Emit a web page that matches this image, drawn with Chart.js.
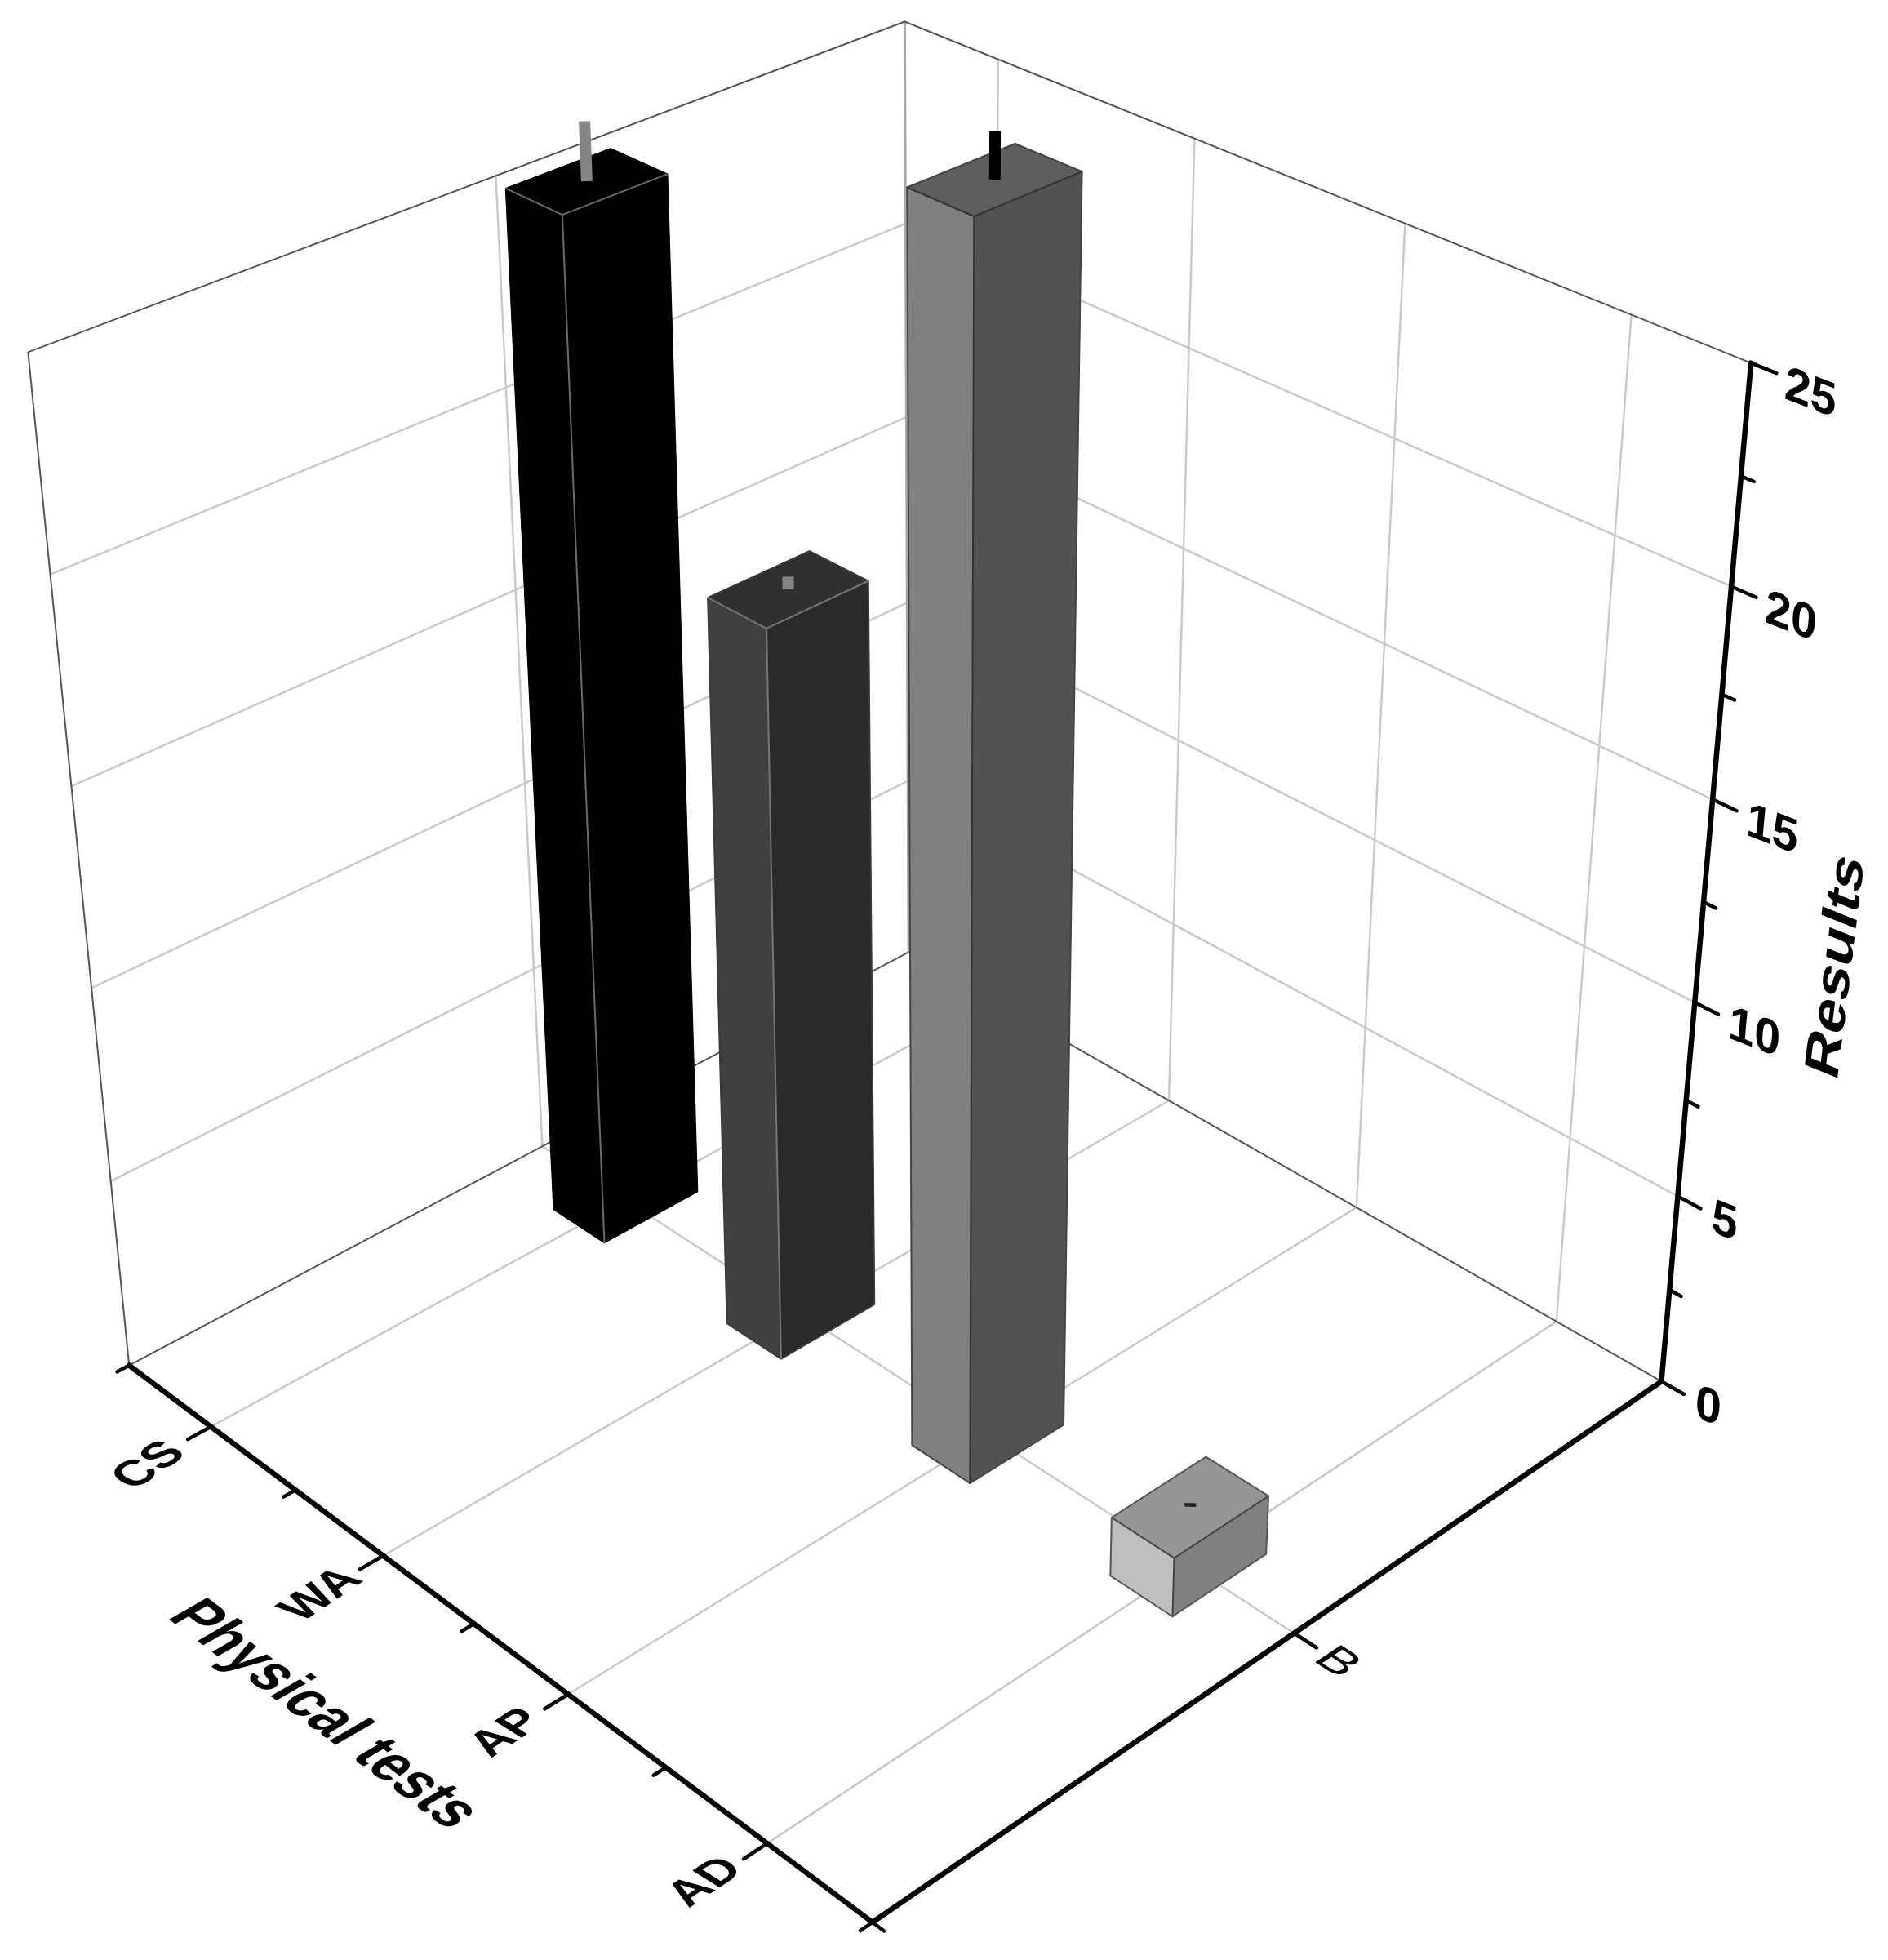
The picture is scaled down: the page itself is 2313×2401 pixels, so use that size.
<!DOCTYPE html>
<html>
<head>
<meta charset="utf-8">
<title>Physical tests</title>
<script src="https://cdn.jsdelivr.net/npm/chart.js@4"></script>
<style>
  html, body { margin: 0; padding: 0; background: #fff; }
  canvas { display: block; filter: blur(0.7px); }
</style>
</head>
<body>
<canvas id="chart" width="2313" height="2401"></canvas>
<script>
// ===== DATA =====
const tests = ["CS", "WA", "AP", "AD"];
const groups = ["B"];
const results = [25.85, 18.6, 29.8, 1.55];
const errors = [1.35, 0.3, 1.0, 0.1];
const resultTicks = [0, 5, 10, 15, 20, 25];
const resultMax = 25;

// ===== STYLE =====
const leftFace = ["#000000", "#404040", "#808080", "#bfbfbf"];
const rightFace = ["#000000", "#2a2a2a", "#525252", "#808080"];
const topFace = ["#000000", "#303030", "#5e5e5e", "#969696"];
const innerEdge = ["#6a6a6a", "#777777", "#333333", "#444444"];
const outerEdge = ["#000000", "#3a3a3a", "#444444", "#555555"];
const errorColor = ["#858585", "#858585", "#000000", "#222222"];
const barU = 0.0374;
const barV = 0.0596;
const fontName = '"Liberation Sans", Arial, sans-serif';
// a non empty dash keeps Chart.js off its fast path, which snaps steep lines to whole pixels
const solidDash = [100000, 0];

// where the box of the plot sits on the page: [u, v, z/25, px, py]
// u runs along the tests axis, v along the groups axis
const frameRefs = [
  [0, 0, 0, 159, 1673], [1, 0, 0, 1069, 2350], [1, 1, 0, 2035, 1693], [0, 1, 0, 1109, 1164],
  [0, 0, 1, 34, 431], [1, 1, 1, 2145, 442], [0, 1, 1, 1109, 27],
  [1, 1, 0.2, 2055, 1467], [1, 1, 0.4, 2076, 1229], [1, 1, 0.6, 2098, 980], [1, 1, 0.8, 2121, 720],
  [0, 0, 0.2, 136, 1442], [0, 0, 0.4, 112, 1210], [0, 0, 0.6, 87, 963], [0, 0, 0.8, 62, 705],
  [0.125, 0, 0, 260, 1751], [0.25, 0, 0, 360, 1830], [0.375, 0, 0, 471, 1905], [0.5, 0, 0, 578, 1993],
  [0.625, 0, 0, 696, 2075], [0.75, 0, 0, 811, 2167], [0.875, 0, 0, 940, 2255],
  [1, 0.5, 0, 1591, 2000], [0, 0.5, 0, 669, 1403], [0.875, 1, 0, 1907, 1619]
];

// ===== PROJECTION =====
function solveFrame(refs) {
  const n = 11;
  const m = Array.from({ length: n }, () => new Array(n + 1).fill(0));
  const addRow = (row, rhs) => {
    for (let i = 0; i < n; i++) {
      for (let j = 0; j < n; j++) m[i][j] += row[i] * row[j];
      m[i][n] += row[i] * rhs;
    }
  };
  refs.forEach(([u, v, z, x, y]) => {
    addRow([1, u, v, z, 0, 0, 0, 0, -x * u, -x * v, -x * z], x);
    addRow([0, 0, 0, 0, 1, u, v, z, -y * u, -y * v, -y * z], y);
  });
  for (let c = 0; c < n; c++) {
    let p = c;
    for (let r = c + 1; r < n; r++) if (Math.abs(m[r][c]) > Math.abs(m[p][c])) p = r;
    [m[c], m[p]] = [m[p], m[c]];
    for (let r = 0; r < n; r++) {
      if (r === c) continue;
      const f = m[r][c] / m[c][c];
      for (let k = c; k <= n; k++) m[r][k] -= f * m[c][k];
    }
  }
  return m.map((row, i) => row[n] / row[i]);
}

const h = solveFrame(frameRefs);

function project(u, v, value) {
  const z = value / resultMax;
  const w = 1 + h[8] * u + h[9] * v + h[10] * z;
  return {
    x: (h[0] + h[1] * u + h[2] * v + h[3] * z) / w,
    y: (h[4] + h[5] * u + h[6] * v + h[7] * z) / w
  };
}

const testU = (i) => (i + 0.5) / tests.length;
const groupV = (i) => (i + 0.5) / groups.length;

// ===== DATASETS =====
const datasets = [];

function addLine(points, color, width) {
  datasets.push({
    data: points, showLine: true, fill: false, borderColor: color, borderWidth: width, borderDash: solidDash,
    pointRadius: 0, tension: 0, clip: false, borderCapStyle: "round", borderJoinStyle: "round"
  });
}

function addFace(points, color) {
  datasets.push({
    data: points.concat([points[0]]), showLine: true, fill: "shape", backgroundColor: color,
    borderColor: color, borderWidth: 1, borderDash: solidDash, pointRadius: 0, tension: 0, clip: false
  });
}

// grid on the walls and the floor
const gridColor = "#cacaca";
resultTicks.slice(1, -1).forEach((t) => {
  addLine([project(0, 0, t), project(0, 1, t)], gridColor, 2.5);
  addLine([project(0, 1, t), project(1, 1, t)], gridColor, 2.5);
});
tests.forEach((t, i) => {
  addLine([project(testU(i), 1, 0), project(testU(i), 1, resultMax)], gridColor, 2.5);
  addLine([project(testU(i), 0, 0), project(testU(i), 1, 0)], gridColor, 2.5);
});
groups.forEach((g, i) => {
  addLine([project(0, groupV(i), 0), project(0, groupV(i), resultMax)], gridColor, 2.5);
  addLine([project(0, groupV(i), 0), project(1, groupV(i), 0)], gridColor, 2.5);
});

// frame of the box
addLine([project(0, 1, 0), project(0, 1, resultMax)], "#a8a8a8", 3);
addLine([project(0, 0, 0), project(0, 0, resultMax), project(0, 1, resultMax), project(1, 1, resultMax)], "#555555", 2);
addLine([project(0, 0, 0), project(0, 1, 0), project(1, 1, 0)], "#555555", 2);

// bars, far one first
results.forEach((value, i) => {
  const u = testU(i);
  const v = groupV(0);
  const lf = (z) => project(u - barU, v - barV, z);
  const fr = (z) => project(u + barU, v - barV, z);
  const rt = (z) => project(u + barU, v + barV, z);
  const bk = (z) => project(u - barU, v + barV, z);
  addFace([lf(0), fr(0), fr(value), lf(value)], leftFace[i]);
  addFace([fr(0), rt(0), rt(value), fr(value)], rightFace[i]);
  addFace([lf(value), fr(value), rt(value), bk(value)], topFace[i]);
  addLine([lf(0), fr(0), rt(0), rt(value), bk(value), lf(value), lf(0)], outerEdge[i], 2);
  addLine([lf(value), fr(value), rt(value)], innerEdge[i], 2);
  addLine([fr(0), fr(value)], innerEdge[i], 2);
  datasets.push({
    data: [project(u, v, value), project(u, v, value + errors[i])], showLine: true, fill: false,
    borderColor: errorColor[i], borderWidth: 14, borderDash: solidDash, pointRadius: 0, clip: false, borderCapStyle: "butt"
  });
});

// axes
const axisColor = "#000000";
addLine([project(0, 0, 0), project(1, 0, 0)], axisColor, 6.5);
addLine([project(1, 0, 0), project(1, 1, 0)], axisColor, 6.5);
addLine([project(1, 1, 0), project(1, 1, resultMax)], axisColor, 6.5);

const majorLen = 0.026;
const minorLen = 0.0135;
for (let k = 0; k <= tests.length * 2; k++) {
  const u = k / (tests.length * 2);
  const len = k % 2 ? majorLen : minorLen;
  addLine([project(u, 0, 0), project(u, -len, 0)], axisColor, 4.5);
}
[0, 0.5, 1].forEach((v) => {
  const len = v === 0.5 ? majorLen : minorLen;
  if (v < 1) addLine([project(1, v, 0), project(1 + len, v, 0)], axisColor, 4.5);
});
resultTicks.forEach((t, i) => {
  addLine([project(1, 1, t), project(1 + majorLen, 1, t)], axisColor, 4.5);
  if (i < resultTicks.length - 1) {
    const mid = t + (resultTicks[i + 1] - t) / 2;
    addLine([project(1, 1, mid), project(1 + minorLen, 1, mid)], axisColor, 4.5);
  }
});

// first dataset in the list has to be painted first
datasets.forEach((d, i) => { d.order = datasets.length - i; });

// ===== TEXT =====
function unit(deg, s) {
  const a = deg * Math.PI / 180;
  return [Math.cos(a) * s, Math.sin(a) * s];
}

function drawText(ctx, text, x, y, font, baseDir, upDir, align, baseline) {
  ctx.save();
  ctx.transform(baseDir[0], baseDir[1], -upDir[0], -upDir[1], x, y);
  ctx.font = font;
  ctx.fillStyle = "#000";
  ctx.textAlign = align;
  ctx.textBaseline = baseline;
  ctx.fillText(text, 0, 0);
  ctx.restore();
}

const axisText = {
  id: "axisText",
  afterDatasetsDraw(chart) {
    const ctx = chart.ctx;
    const px = (p) => [chart.scales.x.getPixelForValue(p.x), chart.scales.y.getPixelForValue(p.y)];

    tests.forEach((t, i) => {
      const [x, y] = px(project(testU(i), 0, 0));
      drawText(ctx, t, x - 75, y + 48, "bold 58px " + fontName, unit(-34, 1.0), unit(-148, 0.98), "center", "middle");
    });
    groups.forEach((g, i) => {
      const [x, y] = px(project(1, groupV(i), 0));
      drawText(ctx, g, x + 52, y + 36, "58px " + fontName, unit(33, 1.1), unit(-34, 0.95), "center", "middle");
    });
    resultTicks.forEach((t) => {
      const [x, y] = px(project(1, 1, t));
      drawText(ctx, String(t), x + 40, y + 43, "bold 56px " + fontName, unit(21, 1.08), unit(-85, 1.06), "left", "alphabetic");
    });

    const [tx, ty] = px(project(0.5, 0, 0));
    drawText(ctx, "Physical tests", tx - 185, ty + 112, "bold 70px " + fontName, unit(37, 0.93), unit(-30, 1.12), "center", "middle");
    const [rx, ry] = px(project(1, 1, 12.5));
    drawText(ctx, "Results", rx + 164, ry + 79, "bold 66px " + fontName, unit(-83, 1.14), unit(-158, 0.95), "center", "middle");
  }
};

// ===== CHART =====
new Chart(document.getElementById("chart").getContext("2d"), {
  type: "scatter",
  data: { datasets: datasets },
  plugins: [axisText],
  options: {
    responsive: false,
    devicePixelRatio: 1,
    animation: false,
    layout: { padding: 0 },
    plugins: {
      legend: { display: false },
      tooltip: { enabled: false },
      filler: { drawTime: "beforeDatasetDraw" }
    },
    scales: {
      x: { type: "linear", display: false, min: 0, max: 2313 },
      y: { type: "linear", display: false, min: 0, max: 2401, reverse: true }
    }
  }
});
</script>
</body>
</html>
